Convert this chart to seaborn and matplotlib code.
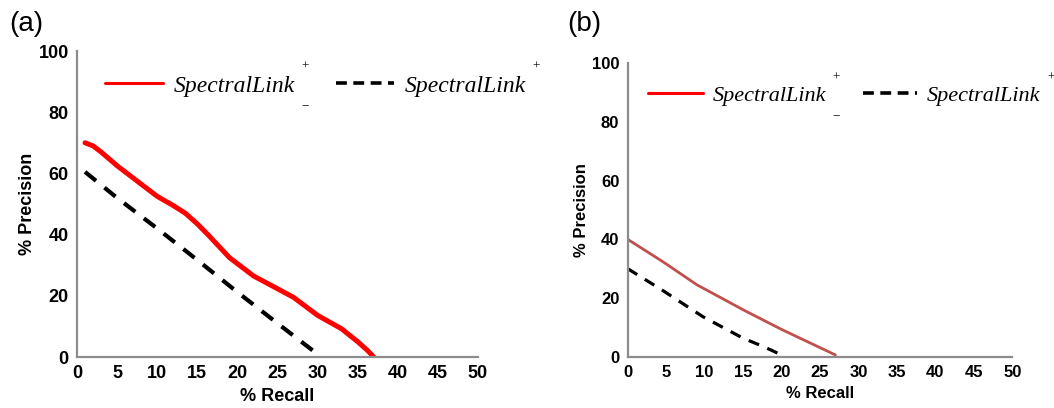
import numpy as np
import pandas as pd
import seaborn as sns
import matplotlib.pyplot as plt
from matplotlib.lines import Line2D

# panel (a)
recall_a_plus = [1, 2, 3, 5, 8, 10, 12, 13.5, 15, 16.5, 19, 22, 25, 27, 30, 33, 35, 36.2, 37]
prec_a_plus = [70, 69, 67, 62.5, 56.5, 52.5, 49.5, 47, 43.5, 39.5, 32.5, 26.5, 22.3, 19.5, 13.6, 9.2, 5, 2.2, 0]
recall_a_minus = [1, 5, 10, 15, 20, 25, 30.3]
prec_a_minus = [60.5, 52, 42, 31.7, 21.2, 11, 0.3]

# panel (b)
recall_b_plus = [0, 4.5, 9, 15, 20, 27]
prec_b_plus = [40, 32.5, 24.5, 16, 9.3, 0.6]
recall_b_minus = [0, 4.6, 9.8, 15, 17.7, 20]
prec_b_minus = [30, 22.5, 13.6, 6.3, 3.4, 0.6]

x_ticks = list(range(0, 51, 5))
y_ticks = list(range(0, 101, 20))
label_name = 'SpectralLink'

sns.set_style('white')
plt.rcParams['font.family'] = ['Liberation Sans', 'DejaVu Sans']
plt.rcParams['text.color'] = 'black'
plt.rcParams['axes.labelcolor'] = 'black'
plt.rcParams['xtick.color'] = 'black'
plt.rcParams['ytick.color'] = 'black'

W, H = 1054, 408
fig = plt.figure(figsize=(W / 100, H / 100), dpi=100)
ax_a = fig.add_axes([77 / W, 51 / H, 401 / W, 306 / H])
ax_b = fig.add_axes([627.7 / W, 51.3 / H, 384.6 / W, 293.4 / H])

panels = [
    (ax_a, recall_a_plus, prec_a_plus, recall_a_minus, prec_a_minus, '#ff0000', 3.6, 3.0, (0, (3.4, 2.6)), 13, 17, 0.07, 0.886, 1.75),
    (ax_b, recall_b_plus, prec_b_plus, recall_b_minus, prec_b_minus, '#c0504d', 2.0, 2.3, (0, (3.5, 2.8)), 12, 16, 0.053, 0.89, 1.65),
]

legs = []
for ax, xp, yp, xm, ym, red, lw_r, lw_k, dash, fs, lfs, lx, ly, colsp in panels:
    df_p = pd.DataFrame({'recall': xp, 'precision': yp})
    df_m = pd.DataFrame({'recall': xm, 'precision': ym})
    sns.lineplot(data=df_p, x='recall', y='precision', ax=ax, color=red,
                 linewidth=lw_r, sort=False, estimator=None)
    sns.lineplot(data=df_m, x='recall', y='precision', ax=ax, color='black',
                 linewidth=lw_k, linestyle=dash, sort=False, estimator=None)
    ax.set_xlim(0, 50)
    ax.set_ylim(0, 100)
    ax.set_xticks(x_ticks)
    ax.set_yticks(y_ticks)
    ax.tick_params(length=0, labelsize=fs, pad=6)
    for t in ax.get_xticklabels() + ax.get_yticklabels():
        t.set_fontweight('bold')
    ax.set_xlabel('% Recall', fontsize=fs, fontweight='bold', labelpad=4)
    ax.set_ylabel('% Precision', fontsize=fs, fontweight='bold', labelpad=2)
    for s in ['top', 'right']:
        ax.spines[s].set_visible(False)
    for s in ['left', 'bottom']:
        ax.spines[s].set_color('#8c8c8c')
        ax.spines[s].set_linewidth(1.6)

    handles = [Line2D([], [], color='#ff0000', linewidth=2.2),
               Line2D([], [], color='black', linewidth=2.6, linestyle=(0, (3, 1.8)))]
    leg = ax.legend(handles, [label_name, label_name], ncol=2, frameon=False,
                    prop={'family': 'Liberation Serif', 'style': 'italic', 'size': lfs},
                    handlelength=2.45, handletextpad=0.45, columnspacing=colsp,
                    borderpad=0, borderaxespad=0,
                    loc='center left', bbox_to_anchor=(lx, ly))
    legs.append(leg)

fig.text(9 / W, 1 - 24 / H, '(a)', fontsize=20, va='center', ha='left')
fig.text(567 / W, 1 - 24 / H, '(b)', fontsize=20, va='center', ha='left')

# superscript / subscript marks beside legend labels
fig.canvas.draw()
for leg in legs:
    texts = leg.get_texts()
    for i, t in enumerate(texts):
        bb = t.get_window_extent()
        xr = bb.x1 + 10
        yc = (bb.y0 + bb.y1) / 2
        fig.text(xr / W, (yc + 19) / H, '+', fontsize=9.5, family='Liberation Serif',
                 ha='center', va='center')
        if i == 0:
            fig.text(xr / W, (yc - 21) / H, '\u2212', fontsize=9.5, family='Liberation Serif',
                     ha='center', va='center')

fig.savefig('out.png', dpi=100)
